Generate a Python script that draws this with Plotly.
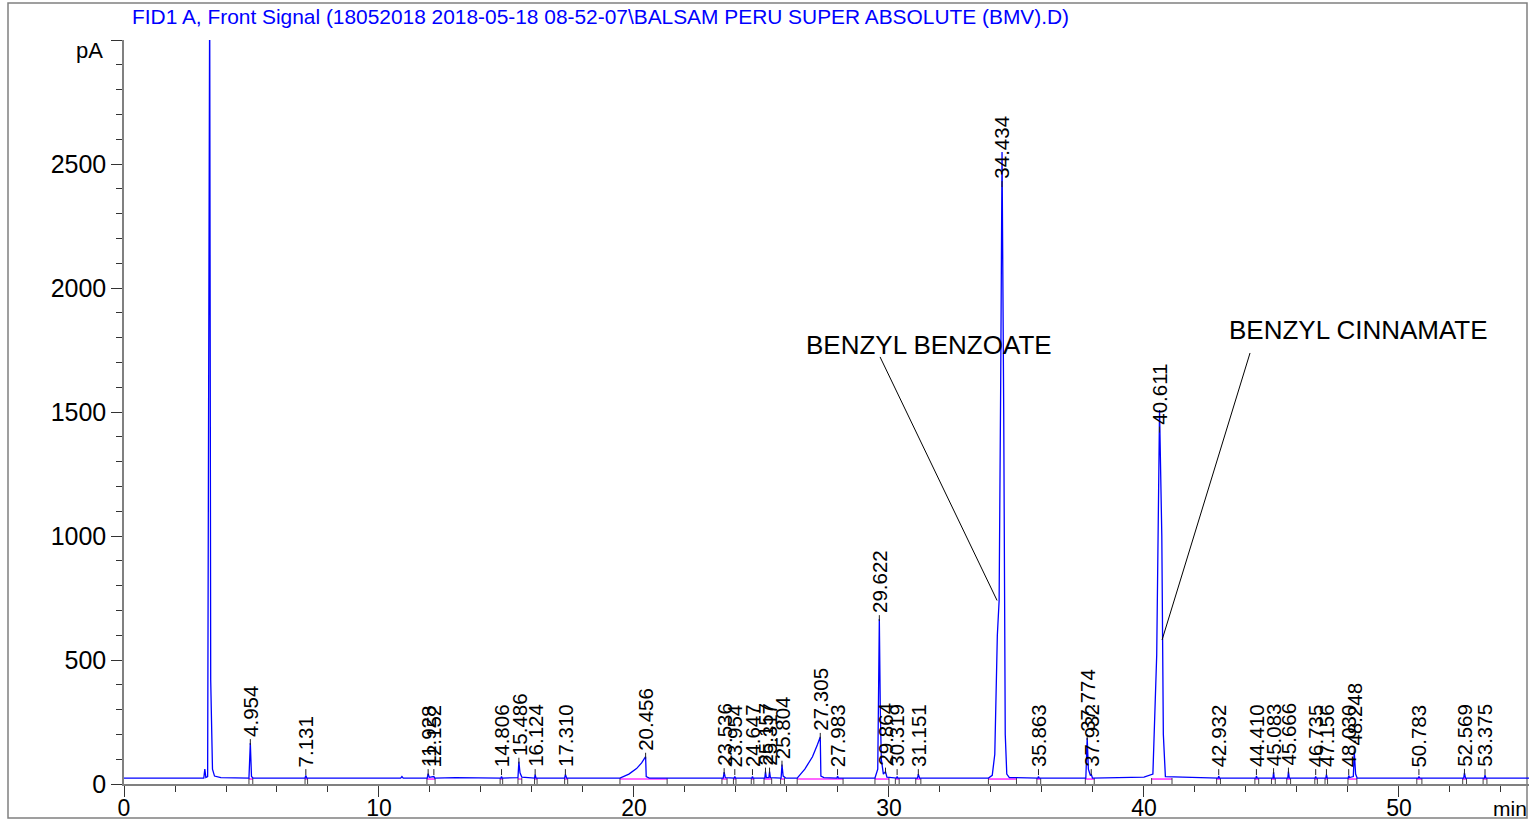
import plotly.graph_objects as go

# ---------------- data ----------------
# detector trace: retention time (min) and signal (pA), vertices of the drawn line
time_min = [
    0.00, 3.05,
    3.13, 3.17, 3.21,
    3.28, 3.36, 3.40, 3.43, 3.47, 3.55, 3.80,
    4.90, 4.954, 5.00, 5.06,
    7.10, 7.131, 7.17,
    10.85, 10.90, 10.95,
    11.89, 11.928, 11.97, 12.152, 12.19,
    13.00,
    14.78, 14.806, 14.83,
    15.45, 15.486, 15.53, 15.60,
    16.10, 16.124, 16.16,
    17.28, 17.310, 17.36,
    19.45, 19.80, 20.10, 20.30, 20.456, 20.48, 20.60,
    23.50, 23.536, 23.58,
    23.93, 23.954, 23.98,
    24.62, 24.647, 24.67,
    25.13, 25.157, 25.19,
    25.29, 25.317, 25.35,
    25.77, 25.804, 25.85, 25.95,
    26.40, 26.70, 27.00, 27.20, 27.305, 27.33, 27.45,
    27.96, 27.983, 28.02,
    29.45, 29.56, 29.622, 29.66, 29.70, 29.78, 29.864, 29.92,
    30.30, 30.319, 30.35,
    31.12, 31.151, 31.20,
    33.90, 34.05, 34.15, 34.25, 34.32, 34.38, 34.434, 34.50, 34.56, 34.62, 34.72,
    35.84, 35.863, 35.89,
    37.72, 37.774, 37.82, 37.90, 37.932, 37.98,
    40.00, 40.35, 40.50, 40.611, 40.70, 40.76, 40.84,
    42.91, 42.932, 42.96,
    44.39, 44.410, 44.44,
    45.06, 45.083, 45.11,
    45.64, 45.666, 45.70,
    46.71, 46.735, 46.76,
    47.13, 47.156, 47.19,
    48.01, 48.030, 48.06, 48.21, 48.248, 48.30, 48.36,
    50.76, 50.783, 50.82,
    52.54, 52.569, 52.61,
    53.35, 53.375, 53.41,
    55.30,
]
signal_pA = [
    24, 24,
    24, 60, 26,
    30, 3200, 420, 180, 60, 32, 26,
    24, 165, 30, 24,
    24, 34, 24,
    24, 30, 24,
    24, 42, 27, 30, 24,
    26,
    24, 30, 24,
    26, 90, 45, 28,
    24, 38, 24,
    24, 38, 24,
    24, 40, 62, 85, 110, 30, 24,
    24, 48, 26,
    24, 30, 24,
    24, 30, 24,
    24, 50, 26,
    26, 50, 26,
    24, 78, 32, 24,
    24, 60, 110, 160, 190, 32, 26,
    24, 32, 24,
    24, 60, 665, 300, 100, 40, 50, 28,
    24, 30, 24,
    24, 40, 24,
    24, 35, 120, 600, 740, 1600, 2548, 1500, 200, 40, 26,
    24, 30, 24,
    24, 185, 60, 34, 40, 24,
    28, 40, 520, 1508, 1000, 200, 30,
    24, 32, 24,
    24, 32, 24,
    24, 48, 24,
    24, 50, 24,
    24, 30, 24,
    24, 38, 24,
    24, 34, 26, 30, 130, 40, 24,
    24, 30, 24,
    24, 45, 24,
    24, 36, 24,
    24,
]

# labelled peaks: retention times and apex heights (pA)
peak_rt = [4.954, 7.131, 11.928, 12.152, 14.806, 15.486, 16.124, 17.310,
           20.456, 23.536, 23.954, 24.647, 25.157, 25.317, 25.804, 27.305,
           27.983, 29.622, 29.864, 30.319, 31.151, 34.434, 35.863, 37.774,
           37.932, 40.611, 42.932, 44.410, 45.083, 45.666, 46.735, 47.156,
           48.030, 48.248, 50.783, 52.569, 53.375]
peak_height = [165, 34, 42, 30, 30, 90, 38, 38,
               110, 48, 30, 30, 50, 50, 78, 190,
               32, 665, 50, 30, 40, 2548, 30, 185,
               40, 1508, 32, 32, 48, 50, 30, 38,
               34, 130, 30, 45, 36]
# integration windows (start, end) drawn as the magenta baseline
integ_start = [4.90, 7.10, 11.88, 14.75, 15.45, 16.10, 17.28, 19.45, 23.45, 23.90,
               24.60, 25.10, 25.75, 26.40, 29.45, 30.25, 31.05, 33.90, 35.80, 37.70,
               40.30, 42.85, 44.35, 45.00, 45.60, 46.70, 47.10, 48.00, 50.70, 52.50, 53.30]
integ_end = [5.05, 7.20, 12.20, 14.85, 15.60, 16.20, 17.40, 21.30, 23.65, 24.00,
             24.70, 25.40, 25.90, 28.20, 30.00, 30.40, 31.25, 35.00, 35.95, 38.05,
             41.10, 43.00, 44.50, 45.15, 45.75, 46.80, 47.20, 48.35, 50.90, 52.65, 53.45]

compound_names = ["BENZYL BENZOATE", "BENZYL CINNAMATE"]
compound_rt = [34.434, 40.611]

title_text = "FID1 A, Front Signal (18052018 2018-05-18 08-52-07\\BALSAM PERU SUPER ABSOLUTE (BMV).D)"
x_ticks = [0, 10, 20, 30, 40, 50]
y_ticks = [0, 500, 1000, 1500, 2000, 2500, 3000]
y_ticktext = ["0", "500", "1000", "1500", "2000", "2500", ""]

# ---------------- figure ----------------
W, H = 1529, 820
ML, MR, MT, MB = 124, 0, 40, 36
XMAX, YMAX = 55.1, 3000
FONT = "Liberation Sans, Arial, sans-serif"

fig = go.Figure()

# integration baselines (magenta)
bx, by = [], []
for s, e in zip(integ_start, integ_end):
    bx += [s, e, None]
    by += [20, 20, None]
fig.add_trace(go.Scatter(x=bx, y=by, mode="lines",
                         line=dict(color="#ff33ff", width=1.6),
                         hoverinfo="skip", showlegend=False))

# integration boundary ticks (between baseline and axis)
kx, ky = [], []
for s, e in zip(integ_start, integ_end):
    kx += [s, s, None, e, e, None]
    ky += [24, 0, None, 24, 0, None]
fig.add_trace(go.Scatter(x=kx, y=ky, mode="lines",
                         line=dict(color="#444444", width=1),
                         hoverinfo="skip", showlegend=False))

# signal
fig.add_trace(go.Scatter(x=time_min, y=signal_pA, mode="lines",
                         line=dict(color="#0000ff", width=1.3),
                         showlegend=False))

# label base positions (pA) derived from the peak heights
label_override = {34.434: 2435, 40.611: 1445}
label_base = []
for rt, h in zip(peak_rt, peak_height):
    label_base.append(label_override.get(rt, max(h, 44) + 20))

# retention-time marker ticks
tx, ty = [], []
for rt, b in zip(peak_rt, label_base):
    tx += [rt, rt, None]
    ty += [b - 4, b - 28, None]
fig.add_trace(go.Scatter(x=tx, y=ty, mode="lines",
                         line=dict(color="#222222", width=1),
                         hoverinfo="skip", showlegend=False))

annotations = []
for rt, b in zip(peak_rt, label_base):
    annotations.append(dict(x=rt, y=b, xref="x", yref="y", text=f"{rt:.3f}",
                            textangle=-90, xanchor="center", yanchor="bottom",
                            showarrow=False, borderpad=0,
                            font=dict(family=FONT, size=20.5, color="black")))

# compound name callouts (text position and leader line end, data coords)
callout_text_xy = [(31.55, 1770), (48.41, 1830)]
callout_line = [((29.65, 1722), (34.24, 740)), ((44.16, 1738), (40.71, 581))]
shapes = []
for name, (cx, cy), ((x0, y0), (x1, y1)) in zip(compound_names, callout_text_xy, callout_line):
    annotations.append(dict(x=cx, y=cy, xref="x", yref="y", text=name,
                            showarrow=False, xanchor="center", yanchor="middle",
                            font=dict(family=FONT, size=26, color="black")))
    shapes.append(dict(type="line", xref="x", yref="y", x0=x0, y0=y0, x1=x1, y1=y1,
                       line=dict(color="black", width=1)))

pw = W - ML - MR
ph = H - MT - MB
def px2paper_x(px):
    return (px - ML) / pw
def py2paper_y(py):
    return (H - MB - py) / ph

# title
annotations.append(dict(x=px2paper_x(130), y=py2paper_y(17), xref="paper", yref="paper",
                        text=title_text, showarrow=False, xanchor="left", yanchor="middle",
                        font=dict(family=FONT, size=20.9, color="#0000ff")))
# axis unit labels
annotations.append(dict(x=px2paper_x(105), y=py2paper_y(51), xref="paper", yref="paper",
                        text="pA", showarrow=False, xanchor="right", yanchor="middle",
                        font=dict(family=FONT, size=22, color="black")))
annotations.append(dict(x=px2paper_x(1491), y=py2paper_y(808), xref="paper", yref="paper",
                        text="min", showarrow=False, xanchor="left", yanchor="middle",
                        font=dict(family=FONT, size=21, color="black")))

# outer frame
shapes.append(dict(type="rect", xref="paper", yref="paper",
                   x0=px2paper_x(8), x1=px2paper_x(1527), y0=py2paper_y(818), y1=py2paper_y(3),
                   line=dict(color="#808080", width=1.5), layer="below"))

fig.update_layout(
    template="none",
    width=W, height=H, autosize=False,
    margin=dict(l=ML, r=MR, t=MT, b=MB, pad=0, autoexpand=False),
    paper_bgcolor="white", plot_bgcolor="white",
    showlegend=False,
    annotations=annotations, shapes=shapes,
    font=dict(family=FONT, color="black"),
)
fig.update_xaxes(range=[0, XMAX], tickmode="array", tickvals=x_ticks, automargin=False,
                 showline=True, linecolor="#808080", linewidth=1.5,
                 ticks="outside", ticklen=11, tickcolor="#333333", tickwidth=1,
                 ticklabelstandoff=-8,
                 minor=dict(tickmode="linear", tick0=0, dtick=2, ticks="outside",
                            ticklen=6, tickcolor="#333333", tickwidth=1, showgrid=False),
                 showgrid=False, zeroline=False,
                 tickfont=dict(family=FONT, size=23, color="black"))
fig.update_yaxes(range=[0, YMAX], tickmode="array", tickvals=y_ticks, ticktext=y_ticktext,
                 automargin=False,
                 showline=True, linecolor="#808080", linewidth=1.5,
                 ticks="outside", ticklen=11, tickcolor="#333333", tickwidth=1,
                 minor=dict(tickmode="linear", tick0=0, dtick=100, ticks="outside",
                            ticklen=6, tickcolor="#333333", tickwidth=1, showgrid=False),
                 showgrid=False, zeroline=False,
                 tickfont=dict(family=FONT, size=25, color="black"))

fig.write_html("out.html", config={"displayModeBar": False},
               post_script="document.body.style.margin='0px';document.body.style.overflow='hidden';")
